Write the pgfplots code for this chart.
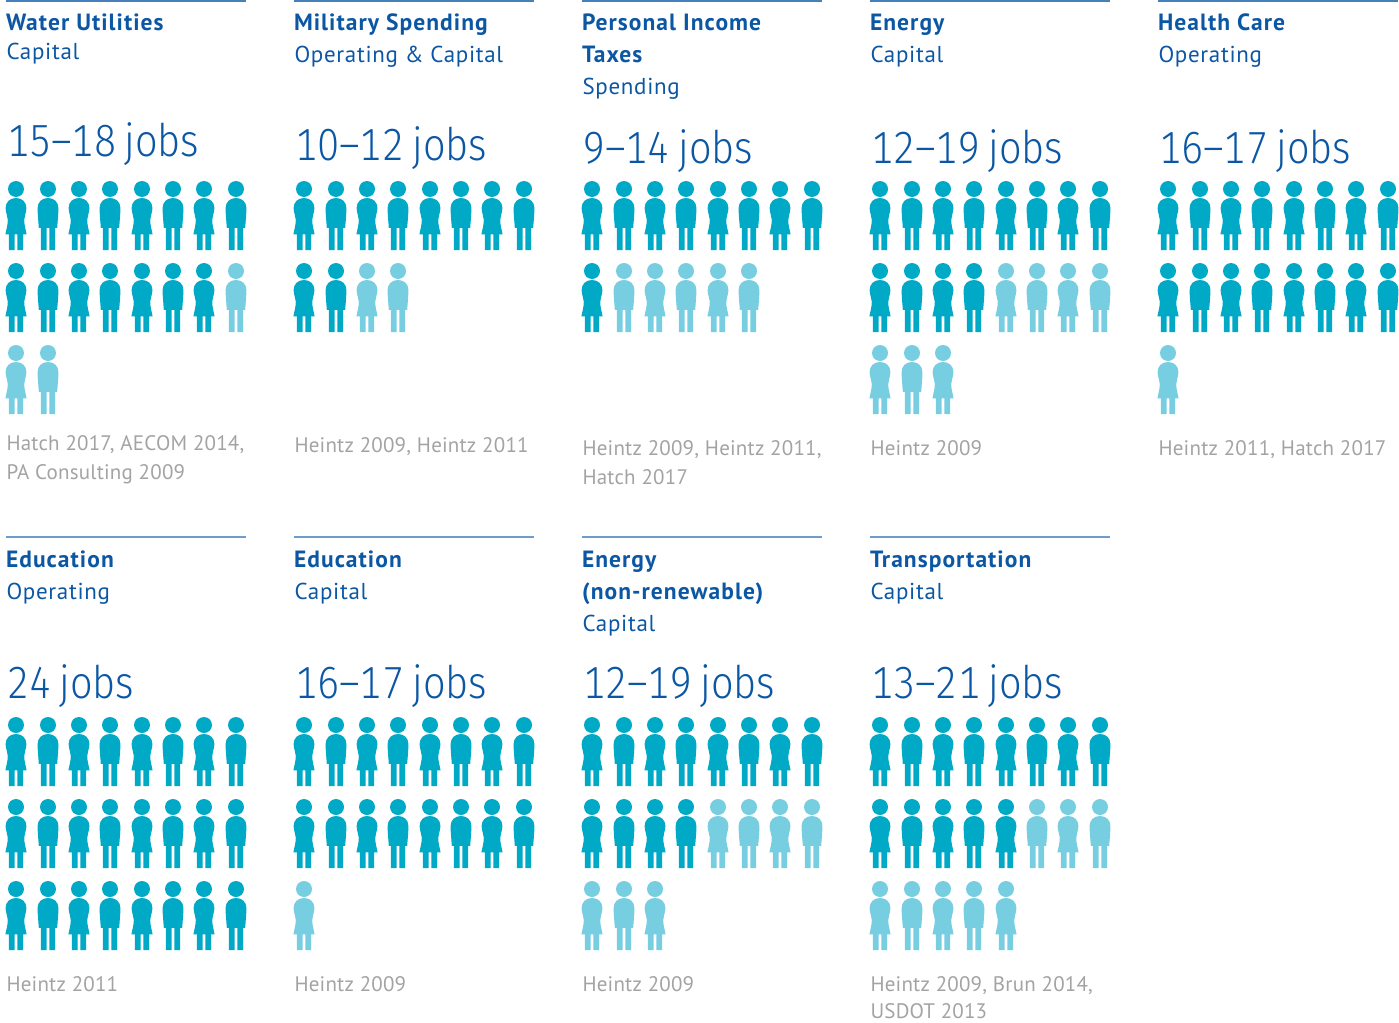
\documentclass[border=0pt]{standalone}
\usepackage{fontspec}
\usepackage{pgfplots}
\pgfplotsset{compat=1.18}
\setmainfont{PT Sans}
\newfontfamily\headfont[LetterSpace=4.5]{PT Sans Bold}
\newfontfamily\subfont[LetterSpace=3]{PT Sans}
\newfontfamily\bigfont[Numbers=Monospaced,WordSpace=0.75,FakeStretch=0.88]{Fira Sans Light}
\newfontfamily\srcfont[LetterSpace=1]{PT Sans}

\definecolor{deep}{HTML}{00A9C5}
\definecolor{pale}{HTML}{76CEE0}
\definecolor{ink}{HTML}{0B57A4}
\definecolor{rule}{HTML}{6E9CCB}
\definecolor{note}{HTML}{A3A3A3}

% Legs shared by both figures: x offsets from the head centre, hip height in #1
\newcommand{\figlegs}[1]{%
  \pgfpathrectanglecorners{\pgfqpoint{-7.1pt}{#1}}{\pgfqpoint{-1.3pt}{-61pt}}%
  \pgfpathrectanglecorners{\pgfqpoint{1.3pt}{#1}}{\pgfqpoint{7.1pt}{-61pt}}%
}
\newcommand{\fighead}{\pgfpathcircle{\pgfqpoint{0pt}{0pt}}{8pt}}

% Figure in a dress; the plotted point is the centre of the head
\pgfdeclareplotmark{woman}{%
  \fighead
  \pgfpathmoveto{\pgfqpoint{0pt}{-9pt}}%
  \pgfpathcurveto{\pgfqpoint{6pt}{-9pt}}{\pgfqpoint{10.4pt}{-13pt}}{\pgfqpoint{10.4pt}{-19pt}}%
  \pgfpathcurveto{\pgfqpoint{10.4pt}{-24pt}}{\pgfqpoint{8.2pt}{-27pt}}{\pgfqpoint{8.2pt}{-31pt}}%
  \pgfpathcurveto{\pgfqpoint{8.2pt}{-36pt}}{\pgfqpoint{9.8pt}{-41pt}}{\pgfqpoint{10.6pt}{-45.3pt}}%
  \pgfpathlineto{\pgfqpoint{-10.6pt}{-45.3pt}}%
  \pgfpathcurveto{\pgfqpoint{-9.8pt}{-41pt}}{\pgfqpoint{-8.2pt}{-36pt}}{\pgfqpoint{-8.2pt}{-31pt}}%
  \pgfpathcurveto{\pgfqpoint{-8.2pt}{-27pt}}{\pgfqpoint{-10.4pt}{-24pt}}{\pgfqpoint{-10.4pt}{-19pt}}%
  \pgfpathcurveto{\pgfqpoint{-10.4pt}{-13pt}}{\pgfqpoint{-6pt}{-9pt}}{\pgfqpoint{0pt}{-9pt}}%
  \pgfpathclose
  \figlegs{-45pt}%
  \pgfusepathqfill
}
% Figure in trousers
\pgfdeclareplotmark{man}{%
  \fighead
  \pgfpathmoveto{\pgfqpoint{0pt}{-9pt}}%
  \pgfpathcurveto{\pgfqpoint{6pt}{-9pt}}{\pgfqpoint{10.4pt}{-13pt}}{\pgfqpoint{10.4pt}{-19pt}}%
  \pgfpathcurveto{\pgfqpoint{10.4pt}{-26pt}}{\pgfqpoint{9.6pt}{-32pt}}{\pgfqpoint{9.2pt}{-38.8pt}}%
  \pgfpathlineto{\pgfqpoint{-9.2pt}{-38.8pt}}%
  \pgfpathcurveto{\pgfqpoint{-9.6pt}{-32pt}}{\pgfqpoint{-10.4pt}{-26pt}}{\pgfqpoint{-10.4pt}{-19pt}}%
  \pgfpathcurveto{\pgfqpoint{-10.4pt}{-13pt}}{\pgfqpoint{-6pt}{-9pt}}{\pgfqpoint{0pt}{-9pt}}%
  \pgfpathclose
  \figlegs{-38.5pt}%
  \pgfusepathqfill
}

\tikzset{
  lbl/.style={anchor=base west,inner sep=0pt,outer sep=0pt},
  head/.style={lbl,text=ink,font=\headfont\fontsize{23.5}{23.5}\selectfont},
  sub/.style={lbl,text=ink,font=\subfont\fontsize{23}{23}\selectfont},
  big/.style={lbl,text=ink,font=\bigfont\fontsize{45}{45}\selectfont},
  src/.style={lbl,text=note,font=\srcfont\fontsize{21}{21}\selectfont},
}

\begin{document}
\begin{tikzpicture}
\useasboundingbox (0,0) rectangle (1399pt,1022pt);
\begin{axis}[
  at={(0pt,0pt)},anchor=south west,
  scale only axis,width=1399pt,height=1022pt,
  xmin=0,xmax=1399,ymin=0,ymax=1022,y dir=reverse,
  axis lines=none,clip=false,
  every axis plot/.append style={only marks,mark size=1pt},
]
% Jobs per sector, one point per job; dark = low estimate, pale = rest of the range
\addplot[mark=woman,mark options={fill=deep,draw=none}] coordinates {
 (16,189)(79,189)(142,189)(204,189) (16,271)(79,271)(142,271)(204,271)
 (304,189)(367,189)(430,189)(492,189) (304,271)
 (592,189)(655,189)(718,189)(780,189) (592,271)
 (880,189)(943,189)(1006,189)(1068,189) (880,271)(943,271)
 (1168,189)(1231,189)(1294,189)(1356,189) (1168,271)(1231,271)(1294,271)(1356,271)
 (16,725)(79,725)(142,725)(204,725) (16,807)(79,807)(142,807)(204,807) (16,889)(79,889)(142,889)(204,889)
 (304,725)(367,725)(430,725)(492,725) (304,807)(367,807)(430,807)(492,807)
 (592,725)(655,725)(718,725)(780,725) (592,807)(655,807)
 (880,725)(943,725)(1006,725)(1068,725) (880,807)(943,807)(1006,807)
};
\addplot[mark=man,mark options={fill=deep,draw=none}] coordinates {
 (48,189)(110,189)(173,189)(236,189) (48,271)(110,271)(173,271)
 (336,189)(398,189)(461,189)(524,189) (336,271)
 (624,189)(686,189)(749,189)(812,189)
 (912,189)(974,189)(1037,189)(1100,189) (912,271)(974,271)
 (1200,189)(1262,189)(1325,189)(1388,189) (1200,271)(1262,271)(1325,271)(1388,271)
 (48,725)(110,725)(173,725)(236,725) (48,807)(110,807)(173,807)(236,807) (48,889)(110,889)(173,889)(236,889)
 (336,725)(398,725)(461,725)(524,725) (336,807)(398,807)(461,807)(524,807)
 (624,725)(686,725)(749,725)(812,725) (624,807)(686,807)
 (912,725)(974,725)(1037,725)(1100,725) (912,807)(974,807)
};
\addplot[mark=woman,mark options={fill=pale,draw=none}] coordinates {
 (16,353)
 (367,271)
 (655,271)(718,271)
 (1006,271)(1068,271) (880,353)(943,353)
 (1168,353)
 (304,889)
 (718,807)(780,807) (592,889)(655,889)
 (1068,807) (880,889)(943,889)(1006,889)
};
\addplot[mark=man,mark options={fill=pale,draw=none}] coordinates {
 (236,271) (48,353)
 (398,271)
 (624,271)(686,271)(749,271)
 (1037,271)(1100,271) (912,353)
 (749,807)(812,807) (624,889)
 (1037,807)(1100,807) (912,889)(974,889)
};

% Header rules
\foreach \x in {6,294,582,870,1158} {
  \edef\temp{\noexpand\draw[rule!60!ink,line width=1.2pt] (axis cs:\x,1) -- (axis cs:\x+240,1);}\temp
}
\foreach \x in {6,294,582,870} {
  \edef\temp{\noexpand\draw[rule,line width=1.8pt] (axis cs:\x,537) -- (axis cs:\x+240,537);}\temp
}

% Upper row
\node[head] at (axis cs:6,31) {Water Utilities};
\node[sub]  at (axis cs:6.5,60) {Capital};
\node[big]  at (axis cs:7,157) {15–18 jobs};
\node[src]  at (axis cs:6.5,450) {Hatch 2017, AECOM 2014,};
\node[src]  at (axis cs:6.5,479) {PA Consulting 2009};

\node[head] at (axis cs:294,31) {Military Spending};
\node[sub]  at (axis cs:294.5,63) {Operating \& Capital};
\node[big]  at (axis cs:295,160) {10–12 jobs};
\node[src]  at (axis cs:294.5,452) {Heintz 2009, Heintz 2011};

\node[head] at (axis cs:582,31) {Personal Income};
\node[head] at (axis cs:582,63) {Taxes};
\node[sub]  at (axis cs:582.5,95) {Spending};
\node[big]  at (axis cs:583,163) {9–14 jobs};
\node[src]  at (axis cs:582.5,455) {Heintz 2009, Heintz 2011,};
\node[src]  at (axis cs:582.5,484) {Hatch 2017};

\node[head] at (axis cs:870,31) {Energy};
\node[sub]  at (axis cs:870.5,63) {Capital};
\node[big]  at (axis cs:871,163) {12–19 jobs};
\node[src]  at (axis cs:870.5,455) {Heintz 2009};

\node[head] at (axis cs:1158,31) {Health Care};
\node[sub]  at (axis cs:1158.5,63) {Operating};
\node[big]  at (axis cs:1159,163) {16–17 jobs};
\node[src]  at (axis cs:1158.5,455) {Heintz 2011, Hatch 2017};

% Lower row
\node[head] at (axis cs:6,567) {Education};
\node[sub]  at (axis cs:6.5,599) {Operating};
\node[big]  at (axis cs:7,698) {24 jobs};
\node[src]  at (axis cs:6.5,991) {Heintz 2011};

\node[head] at (axis cs:294,567) {Education};
\node[sub]  at (axis cs:294.5,599) {Capital};
\node[big]  at (axis cs:295,698) {16–17 jobs};
\node[src]  at (axis cs:294.5,991) {Heintz 2009};

\node[head] at (axis cs:582,567) {Energy};
\node[head] at (axis cs:582,599) {(non-renewable)};
\node[sub]  at (axis cs:582.5,631) {Capital};
\node[big]  at (axis cs:583,698) {12–19 jobs};
\node[src]  at (axis cs:582.5,991) {Heintz 2009};

\node[head] at (axis cs:870,567) {Transportation};
\node[sub]  at (axis cs:870.5,599) {Capital};
\node[big]  at (axis cs:871,698) {13–21 jobs};
\node[src]  at (axis cs:870.5,991) {Heintz 2009, Brun 2014,};
\node[src]  at (axis cs:870.5,1018) {USDOT 2013};
\end{axis}
\end{tikzpicture}
\end{document}
